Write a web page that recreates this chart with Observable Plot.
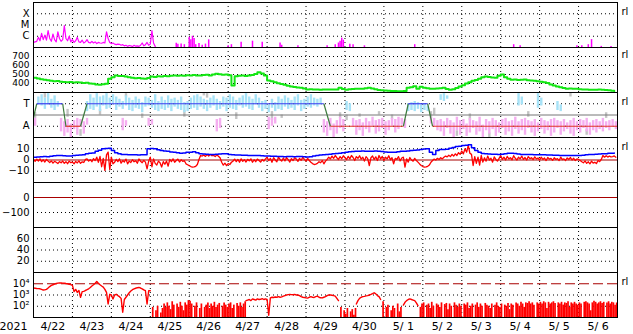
<!DOCTYPE html>
<html><head><meta charset="utf-8">
<script src="https://cdn.jsdelivr.net/npm/d3@7"></script>
<script src="https://cdn.jsdelivr.net/npm/@observablehq/plot@0.6"></script>
<style>
html,body{margin:0;padding:0;background:#fff;}
#chart{position:relative;width:633px;height:334px;overflow:hidden;background:#fff;}
#chart svg{position:absolute;left:0;top:0;}
</style></head><body><div id="chart"></div>
<script>
// ---------- time axis ----------
const startUTC = Date.UTC(2021, 3, 22);
const endUTC = Date.UTC(2021, 4, 7);
const yearLabel = "2021";
const dayLabels = ["4/22","4/23","4/24","4/25","4/26","4/27","4/28","4/29","4/30","5/ 1","5/ 2","5/ 3","5/ 4","5/ 5","5/ 6"];

// ---------- panel 1: X-ray flux (log10 W/m2), hourly ----------
const xrayLabels = ["X","M","C"];
const xrayTicks = [-4,-5,-6];
const xrayBase = [-6.55,-6.5,-6.45,-6.1,-6.4,-5.75,-6.3,-5.9,-6.35,-5.5,-6.2,-6.45,-5.8,-6.3,-6.5,-5.6,-6.2,-6.45,-6.3,-5.05,-6.2,-6.4,-6.0,-6.5,
-6.3,-6.55,-6.4,-6.1,-6.5,-6.55,-6.35,-6.6,-6.5,-6.3,-6.55,-6.6,-6.45,-6.6,-6.5,-6.65,-6.55,-6.6,-6.62,-6.55,-6.6,-5.6,-6.2,-6.55,
-6.65,-6.6,-6.7,-6.75,-6.7,-6.72,-6.8,-6.75,-6.85,-6.8,-6.9,-6.82,-6.85,-6.92,-6.8,-6.88,-6.85,-6.9,-6.8,-6.6,-6.85,-6.75,-6.55,-6.8,
-6.7,-5.5,-6.6,-6.9,-7.3];
const flareHours = [88,89,91,93,96,97,98,99,100,102,104,106,108,120,122,128,135,141,152,153,163,181,186,188,189,190,191,195,197,204,235,296,300,335,338,342,344,350,356];
const flareLogs  = [-6.62,-6.7,-6.68,-6.75,-6.08,-6.3,-6.0,-6.2,-6.75,-6.65,-6.8,-6.7,-6.32,-6.85,-6.75,-6.53,-6.44,-6.53,-6.6,-6.8,-6.85,-6.85,-6.75,-6.6,-6.45,-6.17,-6.35,-6.7,-6.75,-6.85,-6.75,-6.75,-6.85,-6.85,-6.85,-6.75,-6.3,-6.9,-6.9];

// ---------- panel 2: solar wind speed (km/s), 2-hourly ----------
const speedTicks = [400,500,600,700];
const speed = [463,455,448,441,436,430,426,428,420,418,415,417,
412,414,411,405,408,400,396,390,385,392,396,452,
470,489,482,484,478,470,465,459,462,455,452,460,
478,472,480,478,483,480,486,489,485,490,487,492,
488,495,490,489,494,498,490,500,507,502,496,500,
492,378,481,486,490,484,489,495,505,526,512,489,
433,425,415,404,395,385,374,368,362,356,352,345,
333,335,332,333,330,332,333,334,333,333,352,340,
330,335,338,341,341,343,348,352,345,335,328,325,
322,320,318,316,315,315,316,352,358,370,341,365,
352,346,343,341,345,348,352,340,330,335,350,367,
380,400,415,430,440,452,470,478,472,468,463,485,
500,470,452,441,445,438,441,444,436,433,430,425,
420,415,405,390,378,367,358,350,341,345,342,341,
336,333,332,330,331,330,332,330,328,325,320,315];

// ---------- panel 3: IMF sector (T = toward, A = away) ----------
const sectorLabels = ["T","A"];
const sectorTicks = [1,-1];
// [2-hour slot, low, high]
const cyanBars = [[1,0.9,1.6],[2,0.8,1.8],[3,0.5,1.5],[4,0.9,1.9],[5,0.6,1.4],[6,0.4,1.7],[7,0.7,1.2],
[16,0.3,1.2],[17,0.5,1.8],[18,0.4,1.5],[19,0.7,1.9],[20,0.3,1.6],[21,0.8,1.7],[22,0.5,1.9],[23,0.6,1.5],[24,0.9,1.8],[25,0.4,1.6],
[26,0.7,1.4],[27,0.5,1.2],[28,0.8,1.7],[29,0.4,1.5],[30,0.3,1.3],[31,0.6,1.6],[32,0.5,1.4],[33,0.2,1.1],[34,0.7,1.6],[35,0.8,1.5],
[36,0.6,1.3],[37,0.4,1.8],[38,0.3,1.2],[39,0.5,1.6],[40,0.4,1.3],[41,0.6,1.7],[42,0.3,1.4],[43,0.7,1.5],[44,0.5,1.3],[45,0.4,1.6],
[46,0.2,1.1],[47,0.3,1.2],[48,0.5,1.5],[49,0.6,1.7],[50,0.4,1.8],[51,0.7,1.6],[52,0.5,1.4],[53,0.3,1.3],[54,0.6,1.5],[55,0.8,1.7],
[56,0.4,1.4],[57,0.5,1.2],[58,0.7,1.6],[59,0.3,1.5],[60,0.6,1.8],[61,0.5,1.6],[62,0.4,1.3],[63,0.8,1.5],[64,0.6,1.7],[65,0.7,1.9],
[66,0.5,1.6],[67,0.4,1.4],[68,0.9,1.8],[69,0.6,1.5],[70,0.3,1.2],[71,0.5,1.3],[72,0.2,0.9],[73,0.6,1.4],[74,0.3,1.1],[75,0.5,1.6],
[76,0.4,1.4],[77,0.7,1.7],[78,0.5,1.5],[79,0.6,1.3],[80,0.4,1.6],[81,0.8,1.8],[82,0.3,1.3],[83,0.5,1.4],[84,0.7,1.6],[85,0.6,1.8],
[86,0.8,1.5],[87,0.7,1.4],[88,0.9,1.5],[96,0.4,1.2],[97,0.3,1.0],
[115,0.3,1.0],[116,0.4,1.1],[117,0.3,1.2],[118,0.5,1.1],[119,0.2,0.9],[120,0.4,1.0],[121,0.3,0.8],
[125,1.3,1.8],[126,1.2,1.9],[127,1.4,1.7],[149,0.8,1.9],[150,0.9,1.6],[155,0.6,1.9],[156,0.8,1.5],[161,0.4,1.2],[162,0.3,0.9]];
const pinkBars = [[0,-1.0,-0.3],[8,-1.5,-0.3],[9,-1.9,-0.6],[10,-1.6,-0.4],[11,-2.0,-0.8],[12,-1.3,-0.5],[13,-1.8,-0.3],[14,-1.1,-0.4],[15,-1.7,-0.6],[16,-0.9,-0.3],
[27,-1.4,-0.3],[28,-1.0,-0.5],[35,-1.0,-0.3],[36,-0.9,-0.4],[56,-1.5,-0.4],[57,-1.2,-0.3],[72,-1.3,-0.2],[73,-1.0,-0.3],[74,-0.8,-0.2],
[89,-1.6,-0.4],[90,-1.9,-0.6],[91,-1.4,-0.3],[92,-2.0,-0.8],[93,-1.7,-0.5],[94,-1.2,-0.2],[95,-1.5,-0.4],
[98,-1.1,-0.3],[99,-1.8,-0.5],[100,-1.4,-0.4],[101,-1.9,-0.7],[102,-1.3,-0.3],[103,-1.6,-0.6],[104,-1.0,-0.2],[105,-1.7,-0.5],[106,-1.5,-0.4],
[107,-1.2,-0.3],[108,-1.8,-0.6],[109,-1.4,-0.5],[110,-1.0,-0.3],[111,-1.6,-0.4],[112,-1.3,-0.2],[113,-0.9,-0.3],[114,-1.2,-0.4],
[122,-0.8,-0.2],[123,-1.0,-0.3],[124,-1.4,-0.5],
[125,-1.5,-0.4],[126,-1.9,-0.6],[127,-1.2,-0.3],[128,-1.7,-0.5],[129,-2.0,-0.7],[130,-1.4,-0.2],[131,-1.8,-0.5],[132,-1.3,-0.4],[133,-1.9,-0.8],
[134,-1.6,-0.3],[135,-1.2,-0.5],[136,-1.8,-0.6],[137,-1.5,-0.2],[138,-2.0,-0.9],[139,-1.4,-0.4],[140,-1.7,-0.6],[141,-1.3,-0.3],[142,-1.9,-0.5],
[143,-1.6,-0.7],[144,-1.2,-0.4],[145,-1.8,-0.3],[146,-1.5,-0.6],[147,-1.9,-0.5],[148,-1.3,-0.2],[149,-1.7,-0.6],[150,-1.4,-0.4],[151,-1.8,-0.3],
[152,-1.2,-0.5],[153,-1.6,-0.6],[154,-1.9,-0.4],[155,-1.5,-0.7],[156,-1.3,-0.3],[157,-1.7,-0.5],[158,-1.4,-0.6],[159,-1.9,-0.4],[160,-1.6,-0.3],
[161,-1.2,-0.5],[162,-1.8,-0.6],[163,-1.5,-0.4],[164,-1.3,-0.7],[165,-1.7,-0.5],[166,-1.9,-0.3],[167,-1.4,-0.6],[168,-1.6,-0.4],[169,-1.2,-0.5],
[170,-1.5,-0.3],[171,-1.8,-0.7],[172,-1.4,-0.5],[173,-1.6,-0.4],[174,-1.3,-0.6],[175,-1.5,-0.3],[176,-1.2,-0.6],[177,-1.4,-0.5],[178,-1.1,-0.4],[179,-1.3,-0.6]];
const grayBars = [[0,-0.3,0.2],[3,1.5,1.9],[10,-0.2,0.5],[14,-1.9,-1.3],[20,0.0,0.5],[28,1.6,1.9],[33,-0.3,0.1],[46,-0.2,0.4],[52,1.7,2.0],[53,1.5,1.9],
[62,-0.4,0.2],[73,-0.5,0.3],[76,-0.3,0.0],[94,-0.3,0.2],[96,-0.5,0.0],[100,-0.2,0.1],[106,0.0,0.3],[110,-0.4,0.0],[122,-0.3,0.3],[123,0.0,0.6],
[130,-1.9,-1.4],[134,-0.5,0.1],[140,-2.0,-1.6],[152,-0.2,0.3],[165,1.6,2.0],[170,-1.8,-1.3],[176,-0.3,0.2]];
const polHours  = [0, 2, 18, 20, 29, 33, 179, 183, 228, 231, 243, 246, 360];
const polSector = [-0.2, 1, 1, -1, -1, 1, 1, -1, -1, 1, 1, -1, -1];

// ---------- panel 4: IMF Bt (2-hourly) and Bz (hourly), nT ----------
const imfTicks = [10,0,-10];
const bt = [2.5,2.6,2.9,3.1,3.0,3.4,3.8,4.0,4.1,3.8,3.5,3.6,
3.9,4.2,4.5,4.6,5.5,6.0,6.2,7.8,8.6,10.0,10.3,10.5,
8.4,6.5,5.5,5.0,4.8,4.7,4.6,4.6,4.5,4.6,4.7,10.0,
10.2,10.0,9.2,8.4,8.0,7.8,7.2,6.8,6.4,6.0,6.3,6.8,
7.0,7.4,6.5,5.5,5.3,5.1,5.0,5.0,5.2,5.4,5.5,5.5,
5.0,4.6,4.5,4.4,4.3,4.2,4.0,4.1,4.0,3.9,3.7,3.5,
3.5,3.4,3.3,3.2,3.1,3.0,3.1,3.2,3.0,3.1,3.1,2.9,
2.7,3.0,3.5,4.0,4.5,4.7,4.9,5.2,5.5,5.8,6.0,6.5,
7.0,7.4,7.6,7.8,7.8,7.9,7.8,7.7,7.8,7.9,7.8,7.5,
7.2,6.9,6.8,7.0,7.4,7.8,7.8,8.0,8.4,8.7,9.0,9.4,
9.8,10.0,7.0,5.0,8.5,9.3,9.3,9.6,10.5,11.2,12.0,12.3,
12.8,13.2,13.5,11.0,8.4,7.0,5.8,5.5,5.4,5.2,5.1,5.0,
5.2,5.6,6.0,6.0,5.7,5.3,5.0,5.0,4.9,4.8,4.7,4.6,
4.6,4.6,4.5,4.4,4.3,4.2,4.1,4.0,4.0,4.0,4.0,4.0,
4.1,4.3,4.6,4.9,5.0,5.2,5.4,5.5,5.6,5.9,6.1,6.3];
const bz = [0.5,-1.2,0.8,-0.9,1.0,-1.5,0.2,-1.8,0.6,-1.0,-2.2,-0.8,-2.8,-1.2,-2.0,-3.1,-1.4,-2.5,-0.9,-2.9,-1.5,-3.3,-1.0,-2.4,
-1.8,-3.4,-1.2,-2.6,-0.8,-3.0,-1.6,-2.2,0.5,1.0,-1.0,0.3,-1.5,1.2,-0.5,2.5,-2.0,3.2,-6.0,1.5,-9.3,4.5,7.0,-8.5,
2.5,-3.4,-2.0,0.5,-1.5,1.0,-2.8,-0.5,-1.8,0.8,-3.4,-1.0,-2.2,0.2,-1.6,-0.6,-2.9,0.9,-1.2,-2.4,-0.3,-1.9,-7.9,-1.0,
2.5,-6.0,1.0,-3.0,-4.5,-1.0,-2.5,-6.2,-1.5,-3.8,-1.0,-5.5,0.5,-1.5,1.0,-2.0,-0.5,0.8,-1.8,0.2,-1.2,-0.6,-3.4,-4.2,
-5.0,-5.8,-6.4,-6.2,-5.6,-4.0,0.5,4.0,3.5,4.5,3.2,4.8,3.6,5.0,3.8,4.2,3.0,4.6,3.4,2.0,-2.0,-4.5,-2.8,-5.0,
-3.2,-4.0,-2.0,-1.0,0.8,-1.5,0.5,-2.0,1.0,-1.2,0.3,-1.8,0.6,-0.8,1.0,-2.0,0.2,-1.5,0.8,-0.5,-1.9,0.5,-1.0,1.0,
2.5,-0.5,1.5,-2.0,2.0,0.0,-1.5,2.5,0.5,-1.0,1.8,-0.8,2.2,0.3,-1.8,1.2,-0.5,2.0,0.8,-1.2,1.5,-0.3,2.4,0.6,
-1.0,1.5,-0.5,-2.0,-3.2,-4.0,-3.6,-3.0,-1.5,-2.4,-0.5,-3.4,-1.0,0.5,2.5,1.0,3.5,1.5,4.0,2.0,0.5,3.0,1.2,3.8,
2.0,0.5,3.2,1.0,4.0,2.2,-0.4,3.0,1.5,3.8,0.8,2.5,-1.0,3.0,1.2,-4.9,2.0,3.5,0.5,2.8,-0.4,4.0,1.0,3.2,
-0.4,2.5,1.0,3.8,0.2,2.0,-3.4,1.5,0.5,3.0,-0.8,1.8,2.5,-6.4,1.0,-1.9,2.2,0.0,-1.0,1.5,-0.5,-1.9,-3.5,-4.9,
-5.8,-6.4,-6.2,-5.6,-4.5,-2.0,-0.5,0.8,0.0,1.5,0.5,2.0,1.0,2.5,3.5,2.8,4.2,3.0,5.0,3.5,5.5,4.0,6.5,5.0,
8.0,5.5,10.0,7.0,12.9,6.0,5.0,-4.9,3.0,-3.0,2.5,-4.5,4.0,-1.9,2.0,-1.0,3.5,0.0,1.5,-1.9,2.8,0.5,-1.0,1.5,
4.0,0.5,2.5,0.0,3.2,1.0,2.0,0.2,3.8,1.5,0.0,2.5,1.0,3.5,0.5,2.2,0.0,3.0,1.2,2.0,0.3,2.8,1.0,1.8,
0.0,2.5,0.5,1.8,-0.5,2.2,0.8,1.5,-0.3,2.0,0.5,1.2,-0.5,2.5,0.3,1.0,-0.4,1.8,0.5,2.2,0.0,1.5,-0.5,1.0,
0.5,-0.4,-1.5,-2.5,-0.8,-3.0,-1.6,-3.4,-1.0,-2.8,-2.0,-3.2,-0.5,-1.5,0.5,4.0,2.5,3.8,2.6,3.5,2.8,3.0,3.6,2.5];

// ---------- panels 5 and 6: scales only ----------
const p5Ticks = [0,-100];
const p6Ticks = [60,40,20];

// ---------- panel 7: electron flux (log10), hourly ----------
const eTicks = [4,3,2];
const eLabels = ["10\u2074","10\u00b3","10\u00b2"];
const eflux = [3.62,3.6,3.58,3.57,3.55,3.5,3.44,3.46,3.5,3.62,3.75,3.85,3.91,3.97,4.02,4.06,4.07,4.08,4.06,4.05,4.02,4.0,3.95,3.93,
3.85,3.3,3.5,3.23,3.4,2.79,3.3,3.32,3.4,3.47,3.55,3.67,3.8,3.91,4.05,4.2,4.05,3.91,3.8,3.7,3.5,3.23,2.2,3.06,
3.0,2.65,3.0,3.06,2.95,2.85,2.7,1.47,2.6,2.8,3.0,3.2,3.35,3.47,3.55,3.6,3.65,3.67,3.62,3.55,3.45,3.38,2.2,3.38,
3.38,1.9,1.0,1.6,2.0,1.0,1.4,1.8,2.2,1.9,2.3,2.0,1.7,2.4,2.1,1.0,2.2,1.9,2.35,2.0,1.6,2.3,2.1,2.5,
2.45,2.2,1.0,2.0,2.3,1.0,1.8,2.2,1.0,1.9,2.1,2.3,1.8,2.2,2.0,2.35,1.9,2.1,2.25,1.0,2.0,2.3,2.1,1.9,
2.2,2.3,1.8,2.1,1.0,2.25,2.0,2.3,1.9,2.2,2.4,2.5,2.55,2.6,2.5,2.65,2.6,2.55,2.65,2.6,2.62,2.68,2.6,2.65,
2.6,1.2,2.75,2.8,2.78,2.82,2.8,2.85,2.8,2.83,2.9,2.95,3.0,3.03,3.05,3.03,3.02,3.05,3.0,3.0,2.95,2.85,2.8,2.78,
2.75,2.72,2.8,2.85,2.8,2.78,2.85,2.9,2.8,2.75,2.74,2.8,2.85,2.95,3.0,3.0,2.98,2.94,2.9,2.7,2.5,1.9,1.0,1.6,
1.3,1.8,1.0,1.5,1.7,1.2,1.8,2.2,2.5,2.7,2.8,2.85,2.88,2.92,2.94,3.0,3.05,3.12,3.2,3.1,2.95,2.85,2.6,2.4,
1.0,1.9,2.1,1.0,1.6,2.0,1.8,1.0,2.2,1.5,1.9,1.0,2.1,2.35,2.5,2.6,2.65,2.6,2.55,2.5,2.3,2.05,1.9,2.2,
2.3,1.0,2.1,2.2,1.8,2.35,2.0,1.0,2.2,2.1,1.9,2.3,1.0,2.15,2.25,1.7,2.2,2.0,1.0,2.3,2.1,1.9,2.2,2.0,
1.0,2.2,2.1,2.3,1.8,2.0,2.2,1.0,2.1,2.3,1.9,2.2,2.0,1.0,2.25,2.1,2.0,1.8,2.2,1.0,2.1,2.3,2.0,1.9,
2.2,1.0,2.1,2.0,2.25,1.7,2.2,2.1,1.0,2.3,2.2,2.0,2.35,2.2,1.9,2.3,2.25,2.4,2.2,2.3,2.1,1.0,2.3,2.2,
2.35,2.2,2.4,2.3,1.8,2.35,2.2,2.3,2.4,2.25,1.0,2.3,2.2,2.35,2.1,2.3,2.25,2.4,1.9,2.3,2.2,2.35,2.2,2.1,
2.3,2.2,1.0,2.35,2.4,2.3,2.2,1.6,2.3,2.45,2.35,2.2,2.3,2.4,2.25,2.35,1.0,2.3,2.4,2.2,2.35,2.3,2.1,2.3];
const eNoisySpans = [[73,130],[189,198],[215,227],[238,359]];

// ---------- drawing ----------
const W = 633, H = 334, L = 33, R = 16, PH = 45;
const tops = [2, 47, 92, 137, 182, 227, 272];
const hourDate = h => new Date(startUTC + h * 3600e3);
const dayBounds = dayLabels.slice(1).map((_, i) => new Date(startUTC + (i + 1) * 864e5));
const noonDates = dayLabels.map((_, i) => new Date(startUTC + (i + 0.5) * 864e5));
const FONT = "'DejaVu Sans', sans-serif";
const dotted = {stroke: "black", strokeOpacity: 1, strokeDasharray: "1,3"};
const DARKRED = "#a80000";

function panel(i, {domain, ticks, grid, format, marks, rl, bottom, fs = 10}) {
  const top = tops[i];
  return Plot.plot({
    width: W, height: H,
    marginLeft: L, marginRight: R, marginTop: top, marginBottom: H - top - PH,
    style: {background: "transparent", fontFamily: FONT, fontSize: "10px", color: "black"},
    x: {type: "utc", domain: [new Date(startUTC), new Date(endUTC)], axis: null},
    y: {domain, axis: null},
    color: {type: "identity"},
    marks: [
      Plot.gridX(dayBounds, dotted),
      grid && grid.length ? Plot.ruleY(grid, dotted) : null,
      ...marks,
      Plot.axisY(ticks, {tickSize: 0, tickPadding: 4, tickFormat: format, fontSize: fs, fontFamily: FONT, fill: "black"}),
      rl !== undefined ? Plot.text(["rl"], {x: [new Date(endUTC)], y: [rl], dx: 4, dy: -2, textAnchor: "start", fontSize: 10, fill: "black"}) : null,
      ...(bottom || []),
      Plot.frame({stroke: "black"})
    ]
  });
}

const chart = document.getElementById("chart");

// Panel 1: X-ray
chart.append(panel(0, {
  domain: [-7, -3], ticks: xrayTicks, grid: xrayTicks,
  format: (d) => xrayLabels[xrayTicks.indexOf(d)], rl: -4,
  marks: [
    Plot.line(xrayBase, {x: (d, i) => hourDate(i), y: d => d, stroke: "#ff00ff", strokeWidth: 1.2, clip: true}),
    Plot.ruleX(flareHours, {x: h => hourDate(h), y1: -7.5, y2: (h, i) => flareLogs[i], stroke: "#ff00ff", strokeWidth: 1.5, clip: true})
  ]
}));

// Panel 2: solar wind speed
chart.append(panel(1, {
  domain: [300, 800], ticks: speedTicks, grid: speedTicks, rl: 700, fs: 9,
  marks: [
    Plot.line(speed, {x: (d, i) => hourDate(2 * i), y: d => d, stroke: "#14e614", strokeWidth: 2, curve: "step-after", clip: true})
  ]
}));

// Panel 3: IMF sector
const polPts = polHours.map((h, i) => ({h, v: polSector[i]}));
const polSegs = d3.pairs(polPts);
chart.append(panel(2, {
  domain: [-2, 2], ticks: sectorTicks, grid: sectorTicks,
  format: (d) => sectorLabels[sectorTicks.indexOf(d)], rl: 1,
  marks: [
    Plot.ruleX(grayBars, {x: d => hourDate(2 * d[0] + 1), y1: d => d[1], y2: d => d[2], stroke: "#c4c4c4", strokeWidth: 2.4, clip: true}),
    Plot.ruleX(cyanBars, {x: d => hourDate(2 * d[0] + 1), y1: d => d[1], y2: d => d[2], stroke: "#a6e2f7", strokeWidth: 2.4, clip: true}),
    Plot.ruleX(pinkBars, {x: d => hourDate(2 * d[0] + 1), y1: d => d[1], y2: d => d[2], stroke: "#f5aef0", strokeWidth: 2.4, clip: true}),
    Plot.ruleY([0], {stroke: "#777777", strokeWidth: 1}),
    Plot.link(polSegs, {
      x1: d => hourDate(d[0].h), y1: d => d[0].v, x2: d => hourDate(d[1].h), y2: d => d[1].v,
      stroke: d => (d[0].v === 1 && d[1].v === 1) ? "#3c3cf0" : (d[0].v === -1 && d[1].v === -1) ? "#e03628" : "#3d7a3d",
      strokeWidth: 1.2, clip: true
    })
  ]
}));

// Panel 4: IMF
chart.append(panel(3, {
  domain: [-20, 20], ticks: imfTicks, grid: [10, -10], rl: 10,
  marks: [
    Plot.ruleY([0], {stroke: DARKRED}),
    Plot.line(bz, {x: (d, i) => hourDate(i), y: d => d, stroke: "#ff0000", strokeWidth: 1.3, clip: true}),
    Plot.line(bt, {x: (d, i) => hourDate(2 * i), y: d => d, stroke: "#0000ff", strokeWidth: 1.5, curve: "step-after", clip: true})
  ]
}));

// Panel 5
chart.append(panel(4, {
  domain: [-200, 100], ticks: p5Ticks, grid: [-100],
  marks: [Plot.ruleY([0], {stroke: DARKRED})]
}));

// Panel 6
chart.append(panel(5, {
  domain: [0, 80], ticks: p6Ticks, grid: p6Ticks, marks: []
}));

// Panel 7: electrons
const inNoisy = h => eNoisySpans.some(([a, b]) => h >= a && h <= b);
chart.append(panel(6, {
  domain: [1, 5], ticks: eTicks, grid: [3, 2],
  format: (d) => eLabels[eTicks.indexOf(d)], rl: 4,
  marks: [
    Plot.ruleY([4], {stroke: DARKRED, strokeDasharray: "10,4"}),
    Plot.ruleX(eflux.map((v, h) => ({v, h})).filter(d => inNoisy(d.h)),
      {x: d => hourDate(d.h + 0.5), y1: 0.5, y2: d => d.v, stroke: "#ff0000", strokeWidth: 1.7, clip: true}),
    Plot.line(eflux, {x: (d, h) => hourDate(h), y: (d, h) => inNoisy(h) ? NaN : d, stroke: "#ff0000", strokeWidth: 1.4, clip: true})
  ],
  bottom: [
    Plot.text(dayLabels, {x: (d, i) => noonDates[i], frameAnchor: "bottom", dy: 9, lineAnchor: "middle", fontSize: 11, fill: "black"}),
    Plot.text([yearLabel], {x: [new Date(startUTC)], frameAnchor: "bottom", dy: 9, dx: -6, textAnchor: "end", lineAnchor: "middle", fontSize: 11, fill: "black"})
  ]
}));
</script></body></html>
